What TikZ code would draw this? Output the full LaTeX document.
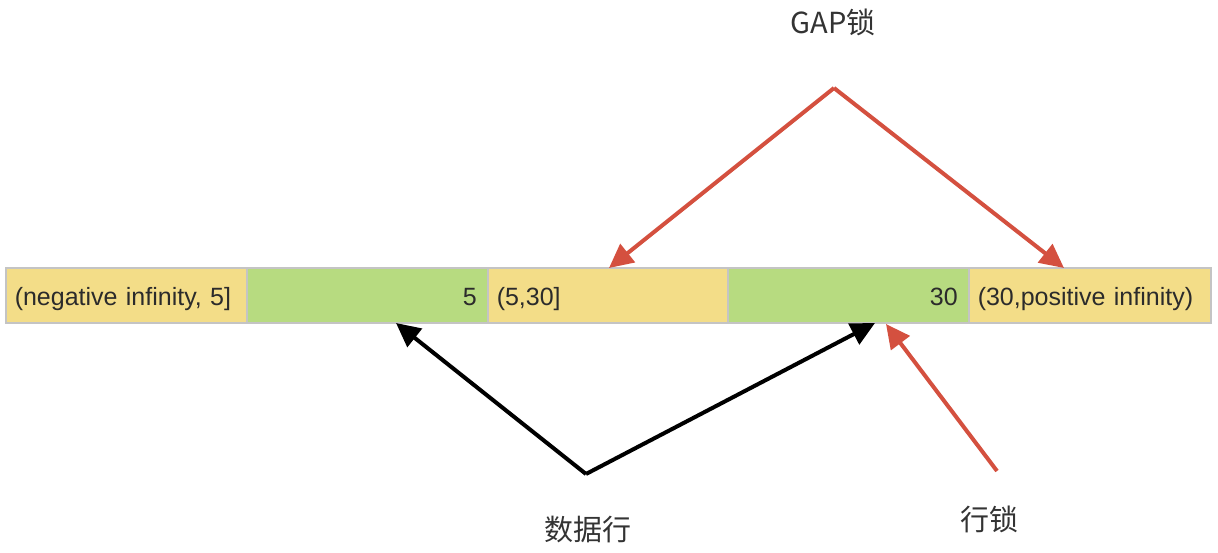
\documentclass[tikz,border=0pt]{standalone}
\usepackage{fontspec}
\setmainfont{Liberation Sans}
\newfontfamily\cjk{Noto Sans CJK SC}
\usetikzlibrary{arrows.meta}
\definecolor{cellY}{HTML}{F3DD88}
\definecolor{cellG}{HTML}{B7DB80}
\definecolor{cellB}{HTML}{C4C4C4}
\definecolor{redA}{HTML}{D4503F}
\definecolor{txt}{HTML}{2B2B2B}
\definecolor{lbl}{HTML}{333333}
\begin{document}
\begin{tikzpicture}[x=1pt,y=-1pt,
  cell/.style={draw=cellB,line width=1.5pt,minimum height=55pt,text width=221pt,inner ysep=0pt,anchor=north west,font=\fontsize{25}{28}\selectfont,text=txt,text height=26pt,text depth=5pt},
  ycell/.style={cell,fill=cellY,align=left,inner xsep=9pt},
  gcell/.style={cell,fill=cellG,align=right,inner xsep=11pt,text width=219pt},
  lab/.style={font=\cjk\fontsize{29}{32}\selectfont,text=lbl},
  redarr/.style={draw=redA,line width=4pt,-{Triangle[length=24pt,width=23pt]}},
  blkarr/.style={draw=black,line width=4pt,-{Triangle[length=24pt,width=23pt]}}]
\useasboundingbox (0,0) rectangle (1218,552);
\node[ycell,text width=223pt] (c1) at (5,267) {(negative infinity, 5]};
\node[gcell] (c2) at (246,267) {5};
\node[ycell,text width=223pt] (c3) at (487,267) {(5,30]};
\node[gcell] (c4) at (727,267) {30};
\node[ycell,text width=224pt] (c5) at (968,267) {(30,positive infinity)};
\node[lab] (gap) at (833,22) {GAP锁};
\node[lab] (data) at (588,529) {数据行};
\node[lab] (row) at (989,519) {行锁};
\coordinate (gapapex) at (834,88);
\coordinate (dataapex) at (586,474);
\coordinate (rowstart) at (997,471);
\coordinate (t1) at (609,268);
\coordinate (t2) at (1064,268);
\coordinate (t3) at (396,323);
\coordinate (t4) at (875,323);
\coordinate (t5) at (886,324);
\draw[redarr] (gapapex) -- (t1);
\draw[redarr] (gapapex) -- (t2);
\draw[blkarr] (dataapex) -- (t3);
\draw[blkarr] (dataapex) -- (t4);
\draw[redarr] (rowstart) -- (t5);
\end{tikzpicture}
\end{document}
